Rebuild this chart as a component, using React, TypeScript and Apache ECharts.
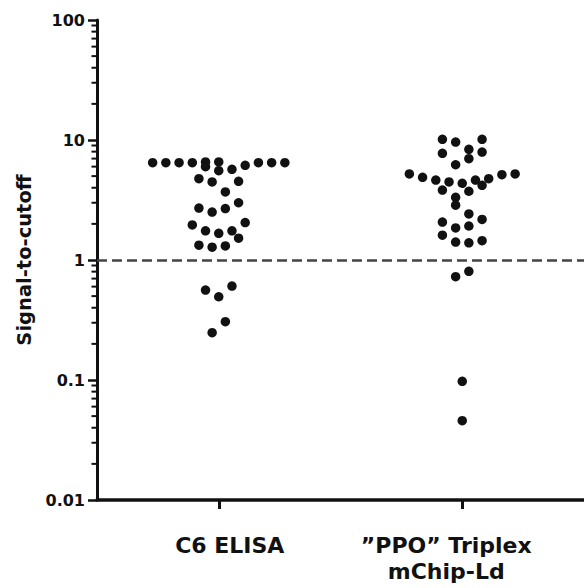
import React, { useEffect, useRef } from 'react';
import * as echarts from 'echarts';

// ---- data ----
const CATEGORIES = ['C6 ELISA', '\u201DPPO\u201D Triplex\nmChip-Ld'];

// C6 ELISA signal-to-cutoff values and their beeswarm slot (in dot widths)
const C6_VALUES = [
  6.47, 6.47, 6.47, 6.47, 6.56, 5.99, 6.56, 5.55, 5.7, 6.15, 6.47, 6.47, 6.47,
  4.76, 4.47, 4.53, 3.69,
  2.71, 2.51, 2.68, 3.0,
  1.96, 1.75, 1.67, 1.75, 2.05, 1.52,
  1.33, 1.28, 1.31,
  0.562, 0.494, 0.607, 0.306, 0.248,
];
const C6_SLOTS = [
  -5, -4, -3, -2, -1, -1, 0, 0, 1, 2, 3, 4, 5,
  -1.5, -0.5, 1.5, 0.5,
  -1.5, -0.5, 0.5, 1.5,
  -2, -1, 0, 1, 2, 1.5,
  -1.5, -0.5, 0.5,
  -1, 0, 1, 0.5, -0.5,
];

// "PPO" Triplex mChip-Ld values and slots
const PPO_VALUES = [
  10.13, 9.62, 10.13, 8.37, 7.75, 7.94, 6.99, 6.22,
  5.21, 4.89, 4.64, 4.47, 4.36, 4.64, 4.76, 5.14, 5.21,
  3.83, 3.74, 4.19, 3.33, 2.86, 2.42,
  2.07, 1.85, 1.92, 2.18,
  1.61, 1.41, 1.39, 1.45,
  0.726, 0.805, 0.0975, 0.0458,
];
const PPO_SLOTS = [
  -1.5, -0.5, 1.5, 0.5, -1.5, 1.5, 0.5, -0.5,
  -4, -3, -2, -1, 0, 1, 2, 3, 4,
  -1.5, 0.5, 1.5, -0.5, -0.5, 0.5,
  -1.5, -0.5, 0.5, 1.5,
  -1.5, -0.5, 0.5, 1.5,
  -0.5, 0.5, 0, 0,
];

const Y_TICKS = [0.01, 0.1, 1, 10, 100];
const MINOR_MULTIPLIERS = [2, 3, 4, 5, 6, 7, 8, 9];
const CUTOFF = 1;

// ---- styling constants ----
const FONT = 'DejaVu Sans';
const INK = '#111';
const SLOT = 0.0543; // one dot width in x-value units

export default function App() {
  const ref = useRef<HTMLDivElement>(null);

  useEffect(() => {
    if (!ref.current) return;
    const chart = echarts.init(ref.current, undefined, { renderer: 'svg' });

    const toPoints = (vals: number[], slots: number[], idx: number) =>
      vals.map((v, i) => [idx + 0.5 + slots[i] * SLOT, v]);

    const minorTicks = Y_TICKS.slice(0, -1).flatMap((d) =>
      MINOR_MULTIPLIERS.map((m) => [0, m * d])
    );

    const fmtY = (v: number) => {
      const t = Y_TICKS.find((x) => Math.abs(Math.log10(x) - Math.log10(v)) < 1e-6);
      return t !== undefined ? String(t) : '';
    };

    const catFont = {
      color: INK,
      fontFamily: FONT,
      fontWeight: 'bold' as const,
      fontSize: 22,
      lineHeight: 26,
    };

    chart.setOption({
      animation: false,
      backgroundColor: '#fff',
      grid: { left: 97, right: -5, top: 20, bottom: 88, containLabel: false },
      xAxis: [
        {
          type: 'category',
          data: CATEGORIES,
          boundaryGap: true,
          axisLine: { show: true, lineStyle: { color: INK, width: 3.5 } },
          axisTick: { show: true, alignWithLabel: true, interval: 0, length: 9, lineStyle: { color: INK, width: 3 } },
          axisLabel: {
            ...catFont,
            interval: 0,
            hideOverlap: false,
            margin: 32,
            formatter: (v: string, i: number) =>
              v.split('\n').map((l) => `{c${i}|${l}}`).join('\n'),
            rich: {
              c0: { ...catFont, padding: [0, 0, 0, 22] },
              c1: { ...catFont, padding: [0, 32, 0, 0] },
            },
          },
          splitLine: { show: false },
        },
        {
          type: 'value',
          min: 0,
          max: 2,
          show: false,
        },
      ],
      yAxis: {
        type: 'log',
        logBase: 10,
        min: 0.01,
        max: 100,
        name: 'Signal-to-cutoff',
        nameLocation: 'middle',
        nameRotate: 90,
        nameGap: 62,
        nameTextStyle: { color: INK, fontFamily: FONT, fontWeight: 'bold', fontSize: 19.5 },
        axisLine: { show: true, lineStyle: { color: INK, width: 3 } },
        axisTick: { show: true, length: 9, lineStyle: { color: INK, width: 2.5 } },
        minorTick: { show: false },
        axisLabel: {
          color: INK,
          fontFamily: FONT,
          fontWeight: 'bold',
          fontSize: 16,
          margin: 12,
          formatter: fmtY,
        },
        splitLine: { show: false },
      },
      series: [
        {
          type: 'custom',
          xAxisIndex: 1,
          yAxisIndex: 0,
          clip: false,
          silent: true,
          data: minorTicks,
          renderItem: (params: any, api: any) => {
            const p = api.coord([0, api.value(1)]);
            return {
              type: 'line',
              shape: { x1: p[0] - 5.5, y1: p[1], x2: p[0], y2: p[1] },
              style: { stroke: INK, lineWidth: 2 },
            };
          },
          z: 1,
        },
        {
          type: 'scatter',
          name: CATEGORIES[0],
          xAxisIndex: 1,
          yAxisIndex: 0,
          symbol: 'circle',
          symbolSize: 9.5,
          itemStyle: { color: INK, opacity: 1 },
          data: toPoints(C6_VALUES, C6_SLOTS, 0),
          markLine: {
            silent: true,
            symbol: 'none',
            label: { show: false },
            lineStyle: { color: '#444', width: 2.5, type: [10, 5] },
            data: [{ yAxis: CUTOFF }],
            z: 1,
          },
          z: 3,
        },
        {
          type: 'scatter',
          name: CATEGORIES[1],
          xAxisIndex: 1,
          yAxisIndex: 0,
          symbol: 'circle',
          symbolSize: 9.5,
          itemStyle: { color: INK, opacity: 1 },
          data: toPoints(PPO_VALUES, PPO_SLOTS, 1),
          z: 3,
        },
      ],
    });

    return () => chart.dispose();
  }, []);

  return (
    <div
      ref={ref}
      style={{ position: 'absolute', left: 0, top: 0, width: 584, height: 588 }}
    />
  );
}
